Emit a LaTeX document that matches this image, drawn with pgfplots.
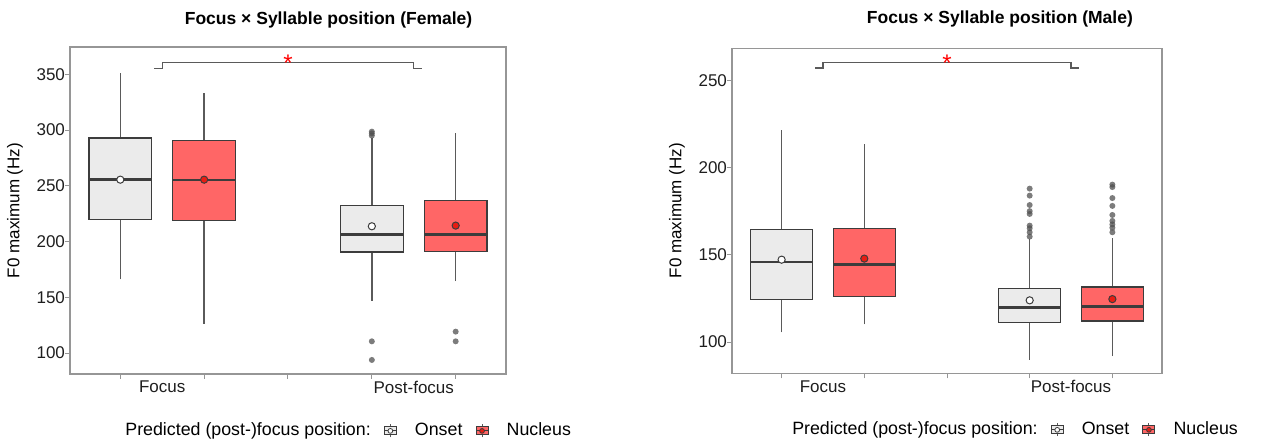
\documentclass[border=0pt]{standalone}
\usepackage{fontspec}
\setmainfont{Liberation Sans}
\usepackage{pgfplots}
\pgfplotsset{compat=1.18}

\definecolor{onsetfill}{RGB}{235,235,235}
\definecolor{nucfill}{RGB}{255,102,102}
\definecolor{meanred}{RGB}{232,28,18}
\definecolor{boxedge}{RGB}{60,60,60}
\definecolor{whiskcol}{RGB}{90,90,90}
\definecolor{framegray}{RGB}{150,150,150}
\definecolor{ticktext}{RGB}{30,30,30}
\definecolor{outcol}{RGB}{80,80,80}

\pgfplotsset{
  myaxis/.style={
    scale only axis,
    xmin=0.4, xmax=5.6,
    axis line style={framegray, line width=0.6pt},
    tick align=outside,
    xtick pos=bottom, ytick pos=left,
    xtick={1,2,3,4,5}, xticklabels={,,,,},
    extra x ticks={1.5,4.5},
    extra x tick labels={Focus,Post-focus},
    extra x tick style={major tick length=0pt},
    major tick length=2.5pt,
    tick style={framegray, line width=0.5pt},
    tick label style={font=\fontsize{8.5}{10}\selectfont, text=ticktext},
    yticklabel style={xshift=3.5pt},
    /pgf/number format/assume math mode=true,
    ylabel={F0 maximum (Hz)},
    label style={font=\fontsize{8.5}{10}\selectfont},
    title style={font=\bfseries\fontsize{8.75}{10}\selectfont, anchor=base, yshift=-6pt},
    legend style={draw=none, fill=none, legend columns=-1, anchor=center,
      font=\fontsize{8.9}{10}\selectfont,
      /tikz/every even column/.append style={column sep=4.5pt},
      /tikz/every odd column/.append style={column sep=7pt}},
  },
  onsetmean/.style={only marks, forget plot, mark=*, mark size=1.8pt,
    mark options={fill=white, draw=boxedge, line width=0.5pt}},
  nucmean/.style={only marks, forget plot, mark=*, mark size=1.8pt,
    mark options={fill=meanred, draw=boxedge, line width=0.5pt}},
  outl/.style={only marks, forget plot, mark=*, mark size=1.5pt,
    mark options={fill=outcol, draw=outcol, line width=0pt, fill opacity=0.75, draw opacity=0}},
  bracket/.style={draw=whiskcol, line width=0.7pt, forget plot, mark=none},
  onsetkey/.style={legend image code/.code={
    \draw[whiskcol, line width=0.5pt] (3pt,-3.2pt)--(3pt,3.2pt);
    \draw[draw=boxedge, fill=onsetfill, line width=0.5pt] (0pt,-2pt) rectangle (6pt,2pt);
    \draw[boxedge, line width=0.6pt] (0pt,0pt)--(6pt,0pt);
    \draw[boxedge, fill=white, line width=0.4pt] (3pt,0pt) circle (1.2pt);}},
  nuckey/.style={legend image code/.code={
    \draw[whiskcol, line width=0.5pt] (3pt,-3.2pt)--(3pt,3.2pt);
    \draw[draw=boxedge, fill=nucfill, line width=0.5pt] (0pt,-2pt) rectangle (6pt,2pt);
    \draw[boxedge, line width=0.6pt] (0pt,0pt)--(6pt,0pt);
    \draw[boxedge, fill=meanred, line width=0.4pt] (3pt,0pt) circle (1.2pt);}},
}

% #1 centre, #2 left, #3 right, #4 lower whisker, #5 lower quartile,
% #6 median, #7 upper quartile, #8 upper whisker, #9 fill colour
\newcommand{\bx}[9]{%
  \addplot[whiskcol, line width=0.7pt, forget plot] coordinates {(#1,#4) (#1,#5)};
  \addplot[whiskcol, line width=0.7pt, forget plot] coordinates {(#1,#7) (#1,#8)};
  \addplot[draw=boxedge, fill=#9, line width=0.7pt, line cap=rect, line join=miter, forget plot]
    coordinates {(#2,#5) (#3,#5) (#3,#7) (#2,#7) (#2,#5)};
  \addplot[boxedge, line width=1.4pt, forget plot] coordinates {(#2,#6) (#3,#6)};
}

\begin{document}
\begin{tikzpicture}
\path[use as bounding box] (0,0) rectangle (643.5pt,221.5pt);

% ---------------- Female ----------------
\begin{axis}[myaxis,
  at={(35pt,34.5pt)}, anchor=south west,
  width=218pt, height=163.5pt,
  ymin=81.2, ymax=374.5,
  ytick={100,150,200,250,300,350},
  title={Focus × Syllable position (Female)},
  title style={at={(0.593,1.070)}},
  ylabel style={at={(axis description cs:-0.126,0.5)}, anchor=center},
  legend style={at={(0.622,-0.174)}},
]
\bx{1}{0.625}{1.375}{166}{220}{255.5}{292.9}{351.5}{onsetfill}
\bx{2}{1.625}{2.375}{126.3}{219}{255.2}{290.8}{333}{nucfill}
\bx{4}{3.625}{4.375}{147}{190.6}{206.2}{232.2}{293}{onsetfill}
\bx{5}{4.625}{5.375}{164.6}{191.2}{206.2}{237}{297.7}{nucfill}
\addplot[outl] coordinates {(4,298.6) (4,297.0) (4,295.0) (4,110.5) (4,93.8) (5,119.2) (5,110.5)};
\addplot[onsetmean] coordinates {(1,255.5) (4,213.7)};
\addplot[nucmean] coordinates {(2,255.5) (5,214.3)};
\addplot[bracket] coordinates {(1.405,355) (1.5,355) (1.5,360.4) (4.5,360.4) (4.5,355) (4.595,355)};
\node[text=red, font=\fontsize{12}{13}\selectfont, anchor=base, inner sep=0pt, yshift=-4.3pt] at (axis cs:3,360.4) {*};
\addlegendimage{empty legend}
\addlegendentry{Predicted (post-)focus position:}
\addlegendimage{onsetkey}
\addlegendentry{Onset\hspace{3pt}}
\addlegendimage{nuckey}
\addlegendentry{Nucleus}
\end{axis}

% ---------------- Male ----------------
\begin{axis}[myaxis,
  at={(366pt,34.85pt)}, anchor=south west,
  width=215pt, height=162.5pt,
  ymin=82.1, ymax=268.3,
  ytick={100,150,200,250},
  title={Focus × Syllable position (Male)},
  title style={at={(0.623,1.075)}},
  ylabel style={at={(axis description cs:-0.128,0.5)}, anchor=center},
  legend style={at={(0.642,-0.174)}},
]
\bx{1}{0.625}{1.375}{105.5}{124.3}{145.9}{164.6}{221.5}{onsetfill}
\bx{2}{1.625}{2.375}{110.1}{126.2}{144.3}{165.2}{213.7}{nucfill}
\bx{4}{3.625}{4.375}{90}{111.3}{119.7}{130.8}{159}{onsetfill}
\bx{5}{4.625}{5.375}{92}{112}{120.4}{131.5}{159.4}{nucfill}
\addplot[outl] coordinates {(4,187.9) (4,183.9) (4,178.5) (4,175.0) (4,173.4) (4,166.7) (4,165.2) (4,162.9) (4,160.4)
  (5,190.2) (5,188.8) (5,182.5) (5,178.0) (5,172.8) (5,169.4) (5,167.4) (5,165.5) (5,162.9)};
\addplot[onsetmean] coordinates {(1,147.2) (4,123.9)};
\addplot[nucmean] coordinates {(2,147.8) (5,124.6)};
\addplot[bracket] coordinates {(1.405,256.9) (1.5,256.9) (1.5,260.1) (4.5,260.1) (4.5,256.9) (4.595,256.9)};
\node[text=red, font=\fontsize{12}{13}\selectfont, anchor=base, inner sep=0pt, yshift=-4.3pt] at (axis cs:3,260.1) {*};
\addlegendimage{empty legend}
\addlegendentry{Predicted (post-)focus position:}
\addlegendimage{onsetkey}
\addlegendentry{Onset\hspace{3pt}}
\addlegendimage{nuckey}
\addlegendentry{Nucleus}
\end{axis}
\end{tikzpicture}
\end{document}
